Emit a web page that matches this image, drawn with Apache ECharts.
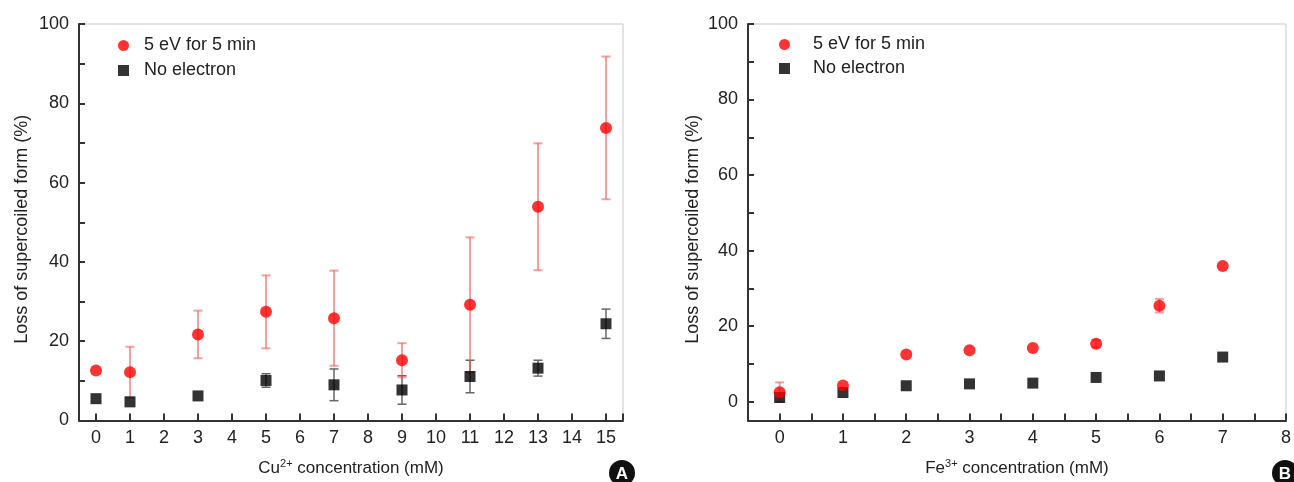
<!doctype html>
<html>
<head>
<meta charset="UTF-8">
<title>Loss of supercoiled form</title>
<script src="https://cdn.jsdelivr.net/npm/echarts@6/dist/echarts.min.js"></script>
<style>
  html, body { margin: 0; padding: 0; background: #fff; }
  #main { width: 1294px; height: 482px; }
</style>
</head>
<body>
<div id="main"></div>
<script>
// panel A: Cu2+
var cuX = [0, 1, 3, 5, 7, 9, 11, 13, 15];
var cuRed = [12.6, 12.2, 21.7, 27.4, 25.8, 15.2, 29.2, 53.9, 73.8];
var cuRedErr = [0, 6.4, 6, 9.2, 12, 4.3, 17, 16, 18];
var cuBlack = [5.5, 4.7, 6.2, 10.1, 9.0, 7.7, 11.1, 13.2, 24.4];
var cuBlackErr = [0, 0, 0, 1.7, 4, 3.6, 4.1, 2, 3.7];

// panel B: Fe3+
var feX = [0, 1, 2, 3, 4, 5, 6, 7];
var feRed = [2.5, 4.3, 12.5, 13.6, 14.2, 15.3, 25.4, 35.9];
var feRedErr = [2.6, 0, 0, 0, 0, 1, 1.8, 0];
var feBlack = [1.1, 2.4, 4.2, 4.7, 4.9, 6.4, 6.8, 11.8];
var feBlackErr = [0, 0, 0, 0, 0, 0, 0, 0];

var seriesNames = ['5 eV for 5 min', 'No electron'];
var yTitle = 'Loss of supercoiled form (%)';

var font = '"Liberation Sans", Arial, sans-serif';
var txt = '#222';

function pts(xs, ys) {
    return xs.map(function (x, i) { return [x, ys[i]]; });
}
function errs(xs, ys, es) {
    var res = [];
    for (var i = 0; i < xs.length; i++) {
        if (es[i] > 0) res.push([xs[i], ys[i] - es[i], ys[i] + es[i]]);
    }
    return res;
}
function errSeries(idx, data, color, width) {
    return {
        type: 'custom',
        xAxisIndex: idx, yAxisIndex: idx,
        silent: true,
        z: 1,
        data: data,
        renderItem: function (params, api) {
            var top = api.coord([api.value(0), api.value(2)]);
            var bot = api.coord([api.value(0), api.value(1)]);
            var w = 4.5;
            var st = { stroke: color, lineWidth: width };
            return {
                type: 'group',
                children: [
                    { type: 'line', shape: { x1: top[0], y1: top[1], x2: bot[0], y2: bot[1] }, style: st },
                    { type: 'line', shape: { x1: top[0] - w, y1: top[1], x2: top[0] + w, y2: top[1] }, style: st },
                    { type: 'line', shape: { x1: bot[0] - w, y1: bot[1], x2: bot[0] + w, y2: bot[1] }, style: st }
                ]
            };
        }
    };
}

function xAxisCfg(idx, min, max, step, name) {
    return {
        type: 'value', gridIndex: idx,
        min: min, max: max, minInterval: step, maxInterval: step,
        splitLine: { show: false },
        axisLine: { onZero: false, lineStyle: { color: '#333', width: 2 } },
        axisTick: { inside: true, length: 7, lineStyle: { color: '#333', width: 2 } },
        axisLabel: {
            margin: 9, color: txt, fontSize: 18, fontFamily: font,
            showMinLabel: true, showMaxLabel: true,
            formatter: function (v) { return (Math.abs(v - Math.round(v)) < 1e-6 && v >= 0) ? String(Math.round(v)) : ''; }
        },
        name: name,
        nameLocation: 'middle', nameGap: 38,
        nameTextStyle: {
            color: txt, fontSize: 17, fontFamily: font,
            rich: { sup: { fontSize: 11, fontFamily: font, color: txt, padding: [0, 0, 9, 0] } }
        }
    };
}
function yAxisCfg(idx, min, step, nameGap) {
    return {
        type: 'value', gridIndex: idx,
        min: min, max: 100, minInterval: step, maxInterval: step,
        splitLine: { show: false },
        axisLine: { onZero: false, lineStyle: { color: '#333', width: 2 } },
        axisTick: { inside: true, length: 6, lineStyle: { color: '#333', width: 2 } },
        axisLabel: {
            margin: 10, color: txt, fontSize: 18, fontFamily: font,
            formatter: function (v) { return (v >= 0 && v % 20 === 0) ? String(v) : ''; }
        },
        name: yTitle,
        nameLocation: 'middle', nameGap: nameGap,
        nameTextStyle: { color: txt, fontSize: 18, fontFamily: font, padding: [0, 14, 0, 0] }
    };
}
function legendCfg(left, top, gap, itemGap) {
    return {
        orient: 'vertical', left: left, top: top,
        itemWidth: 11, itemHeight: 11, itemGap: itemGap,
        selectedMode: false,
        textStyle: { color: txt, fontSize: 18, fontFamily: font, padding: [0, 0, 0, gap], lineHeight: 21 },
        data: [
            { name: seriesNames[0], icon: 'circle', itemStyle: { color: '#ff0000' } },
            { name: seriesNames[1], icon: 'rect', itemStyle: { color: '#000' } }
        ]
    };
}

var option = {
    animation: false,
    backgroundColor: '#fff',
    textStyle: { fontFamily: font },
    grid: [
        { left: 79, top: 24, width: 544, height: 398, show: true, borderColor: '#c8c8c8', borderWidth: 1 },
        { left: 748, top: 24, width: 541, height: 399, show: true, borderColor: '#c8c8c8', borderWidth: 1 }
    ],
    xAxis: [
        xAxisCfg(0, -0.5, 15.5, 1, 'Cu{sup|2+} concentration (mM)'),
        xAxisCfg(1, -0.5, 8, 0.5, 'Fe{sup|3+} concentration (mM)')
    ],
    yAxis: [
        yAxisCfg(0, 0, 10, 48),
        yAxisCfg(1, -5, 10, 46)
    ],
    legend: [legendCfg(113, 30, 10, 4), legendCfg(774, 29, 18, 3)],
    graphic: [
        { type: 'circle', shape: { cx: 622, cy: 473, r: 13 }, style: { fill: '#111' } },
        { type: 'text', x: 622, y: 474, style: { text: 'A', fill: '#fff', font: 'bold 17px ' + font, textAlign: 'center', textVerticalAlign: 'middle' } },
        { type: 'circle', shape: { cx: 1285, cy: 473, r: 13 }, style: { fill: '#111' } },
        { type: 'text', x: 1285, y: 474, style: { text: 'B', fill: '#fff', font: 'bold 17px ' + font, textAlign: 'center', textVerticalAlign: 'middle' } }
    ],
    series: [
        errSeries(0, errs(cuX, cuBlack, cuBlackErr), '#666', 1.5),
        {
            name: seriesNames[1], type: 'scatter', xAxisIndex: 0, yAxisIndex: 0, z: 2,
            symbol: 'rect', symbolSize: 11, itemStyle: { color: '#000' },
            data: pts(cuX, cuBlack)
        },
        errSeries(0, errs(cuX, cuRed, cuRedErr), 'rgba(240,80,80,0.55)', 2),
        {
            name: seriesNames[0], type: 'scatter', xAxisIndex: 0, yAxisIndex: 0, z: 3,
            symbol: 'circle', symbolSize: 12, itemStyle: { color: '#ff0000' },
            data: pts(cuX, cuRed)
        },
        errSeries(1, errs(feX, feBlack, feBlackErr), '#666', 1.5),
        {
            name: seriesNames[1], type: 'scatter', xAxisIndex: 1, yAxisIndex: 1, z: 2,
            symbol: 'rect', symbolSize: 11, itemStyle: { color: '#000' },
            data: pts(feX, feBlack)
        },
        errSeries(1, errs(feX, feRed, feRedErr), 'rgba(240,80,80,0.55)', 2),
        {
            name: seriesNames[0], type: 'scatter', xAxisIndex: 1, yAxisIndex: 1, z: 3,
            symbol: 'circle', symbolSize: 12, itemStyle: { color: '#ff0000' },
            data: pts(feX, feRed)
        }
    ]
};

var myChart = echarts.init(document.getElementById('main'), null, { renderer: 'canvas' });
myChart.setOption(option);
</script>
</body>
</html>
